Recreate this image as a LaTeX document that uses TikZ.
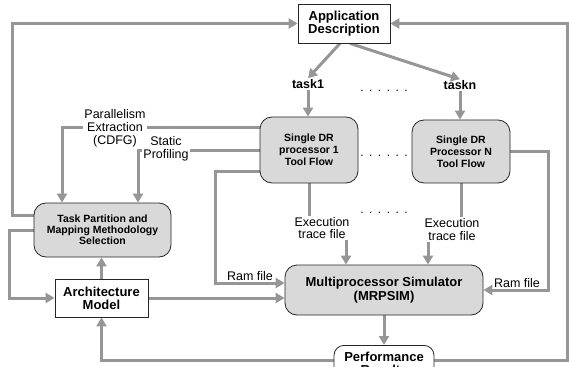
\documentclass[tikz,border=0pt]{standalone}
\usepackage{fontspec}
\setmainfont{Liberation Sans}
\usetikzlibrary{arrows.meta,backgrounds}
\definecolor{lg}{RGB}{150,150,150}
\definecolor{bf}{RGB}{217,217,217}
\begin{document}
\begin{tikzpicture}[x=1pt,y=-1pt,
  box/.style={draw=black!85, line width=0.8pt, fill=white, inner sep=0pt, align=center},
  rbox/.style={box, fill=bf, rounded corners=12pt},
  ln/.style={draw=lg, line width=3pt},
  arr/.style={ln, -{Triangle[length=9pt,width=10pt]}},
  lbl/.style={font=\fontsize{12.5}{13}\selectfont, align=center, inner sep=1pt},
  bigb/.style={font=\fontsize{13}{13}\selectfont\bfseries},
  smb/.style={font=\fontsize{10.5}{12}\selectfont\bfseries},
  dots/.style={font=\fontsize{12}{12}\selectfont, inner sep=0pt},
]
\useasboundingbox (0,0) rectangle (569,366);

% boxes
\node[box, bigb, minimum width=92pt, minimum height=39pt] (app) at (344,23.5) {Application\\Description};
\node[rbox, smb, minimum width=98pt, minimum height=66pt] (sdr1) at (309,150) {Single DR\\processor 1\\Tool Flow};
\node[rbox, smb, minimum width=98pt, minimum height=63pt] (sdrn) at (461,151.5) {Single DR\\Processor N\\Tool Flow};
\node[rbox, font=\fontsize{10.5}{11}\selectfont\bfseries, minimum width=137pt, minimum height=54pt] (task) at (102.5,230) {Task Partition and\\Mapping Methodology\\Selection};
\node[box, bigb, minimum width=93pt, minimum height=38pt] (arch) at (101.5,298) {Architecture\\Model};
\node[rbox, font=\fontsize{13}{14}\selectfont\bfseries, minimum width=198pt, minimum height=50pt] (sim) at (384,290) {Multiprocessor Simulator\\(MRPSIM)};
\node[box, font=\fontsize{13}{13.5}\selectfont\bfseries, rounded corners=10pt, minimum width=100pt, minimum height=36pt, inner ysep=0.5pt, anchor=north] (perf) at (384,345) {Performance\\Results};

% labels
\node[font=\fontsize{12.5}{13}\selectfont\bfseries, inner sep=1pt] (t1) at (308,84) {task1};
\node[font=\fontsize{12.5}{13}\selectfont\bfseries, inner sep=1pt] (tn) at (460,85) {taskn};
\node[lbl, fill=white] (par) at (115,128.5) {Parallelism\\Extraction\\(CDFG)};
\node[lbl, fill=white] (stp) at (166,149) {Static\\Profiling};
\node[lbl] (ram1) at (250,276) {Ram file};
\node[lbl] (ramn) at (517,283) {Ram file};
\node[lbl, font=\fontsize{12.5}{12.5}\selectfont] (ex1) at (322,228) {Execution\\trace file};
\node[lbl, font=\fontsize{12.5}{12.5}\selectfont] (exn) at (452,229.5) {Execution\\trace file};
\node[dots] (d1) at (384,91) {.\hspace{5.5pt}.\hspace{5.5pt}.\hspace{5.5pt}.\hspace{5.5pt}.\hspace{5.5pt}.};
\node[dots] (d2) at (384,156) {.\hspace{5.5pt}.\hspace{5.5pt}.\hspace{5.5pt}.\hspace{5.5pt}.\hspace{5.5pt}.};
\node[dots] (d3) at (384,213) {.\hspace{5.5pt}.\hspace{5.5pt}.\hspace{5.5pt}.\hspace{5.5pt}.\hspace{5.5pt}.};

\begin{pgfonlayer}{background}
% feedback loops
\draw[arr] (task.west |- 0,215) -- (12,215) |- (app.west);
\draw[arr] (task.west |- 0,230) -- (9,230) |- (arch.west);
\draw[arr] (perf.center |- 0,360) -| (arch.south);
\draw[arr] (perf.center |- 0,360) -- (567,360) |- (app.east);
% architecture
\draw[arr] (arch.north) -- (arch.north |- task.south);
\draw[arr] (arch.east) -- (arch.east -| sim.west);
% application to tasks
\draw[arr] (app.south -| 340,0) -- (t1.north);
\draw[arr] (app.south -| 350,0) -- (tn.north);
\draw[arr] (t1.south) -- (t1.south |- sdr1.north);
\draw[arr] (tn.south) -- (tn.south |- sdrn.north);
% tool flow to task partition
\draw[arr] (sdr1.west |- 0,128) -| (task.north -| 62,0);
\draw[arr] (sdr1.west |- 0,150) -| (task.north -| 138,0);
% ram files
\draw[arr] (sdr1.west |- 0,171) -| (215,283) -- (sim.west |- 0,283);
\draw[arr] (sdrn.east) -| (548,290) -- (sim.east);
% execution traces
\draw[ln] (sdr1.south) -- (sdr1.south |- ex1.north);
\draw[arr] (ex1.south -| 346,0) -- (sim.north -| 346,0);
\draw[ln] (sdrn.south) -- (sdrn.south |- exn.north);
\draw[arr] (exn.south -| 428,0) -- (sim.north -| 428,0);
% simulator to results
\draw[arr] (sim.south) -- (perf.north);
\end{pgfonlayer}
\end{tikzpicture}
\end{document}
